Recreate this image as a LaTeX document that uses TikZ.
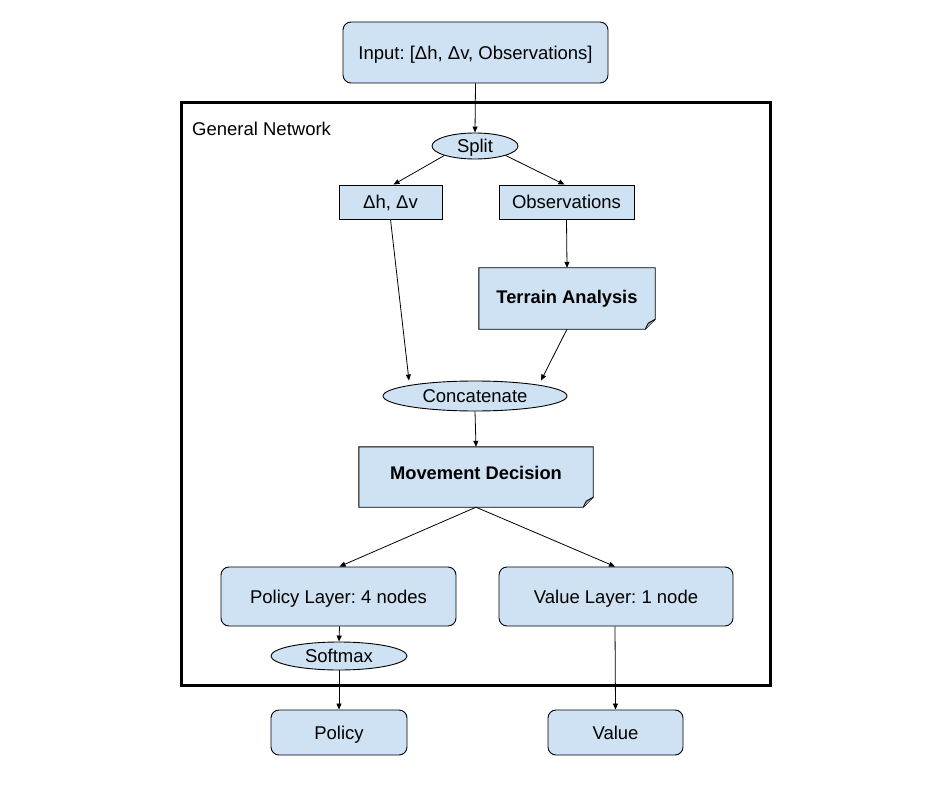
\documentclass[tikz,border=0pt]{standalone}
\usepackage{fontspec}
\setmainfont{Liberation Sans}
\frenchspacing
\usetikzlibrary{arrows.meta,shapes.geometric}
\definecolor{boxblue}{HTML}{CFE2F3}
\definecolor{foldblue}{HTML}{A7B5C2}
\tikzset{
  txt/.style={font=\fontsize{18.5}{22}\selectfont, text height=13.2pt, text depth=0pt},
  btxt/.style={font=\bfseries\fontsize{18.3}{22}\selectfont, text height=13.1pt, text depth=0pt, inner sep=0pt},
  base/.style={draw=black, line width=0.9pt, fill=boxblue, txt, inner sep=0pt},
  rbox/.style={base, rounded corners=8pt},
  sbox/.style={base},
  ell/.style={base, ellipse},
  conn/.style={line width=0.8pt, -{Triangle[length=6pt,width=5pt]}},
  notebox/.style={minimum width=#1, inner sep=0pt},
}
\begin{document}
\begin{tikzpicture}[x=1pt,y=-1pt]
\useasboundingbox (0,0) rectangle (944,791);
% frame
\draw[line width=3pt] (181,103) rectangle (770,685);
\node[anchor=west, txt, inner sep=0pt] (gn) at (192,129) {General Network};

\node[rbox, minimum width=265pt, minimum height=61pt] (inp) at (475.5,52.5) {Input: [Δh, Δv, Observations]};
\node[ell, minimum width=86pt, minimum height=26pt] (split) at (475,146) {Split};
\node[sbox, minimum width=103pt, minimum height=34pt] (dhv) at (390.5,202) {Δh, Δv};
\node[sbox, minimum width=135pt, minimum height=34pt] (obs) at (566.5,202) {Observations};

% Terrain analysis (note with folded corner)
\node[notebox=176pt, minimum height=61pt] (ter) at (567,298.5) {};
\draw[line width=0.9pt, fill=boxblue] (ter.north west) -- (ter.north east) -- ([yshift=10pt]ter.south east) -- ([xshift=-10pt]ter.south east) -- (ter.south west) -- cycle;
\fill[foldblue] ([yshift=10pt]ter.south east) -- ([xshift=-10pt]ter.south east) -- ([xshift=-7pt,yshift=6pt]ter.south east) -- cycle;
\draw[line width=0.9pt] ([yshift=10pt]ter.south east) -- ([xshift=-7pt,yshift=6pt]ter.south east) -- ([xshift=-10pt]ter.south east);
\node[btxt] (tert) at ([yshift=2pt]ter.center) {Terrain Analysis};

\node[ell, minimum width=184pt, minimum height=30pt] (cat) at (475,396) {Concatenate};

% Movement decision
\node[notebox=234pt, minimum height=60pt] (mov) at (476,477) {};
\draw[line width=0.9pt, fill=boxblue] (mov.north west) -- (mov.north east) -- ([yshift=10pt]mov.south east) -- ([xshift=-10pt]mov.south east) -- (mov.south west) -- cycle;
\fill[foldblue] ([yshift=10pt]mov.south east) -- ([xshift=-10pt]mov.south east) -- ([xshift=-7pt,yshift=6pt]mov.south east) -- cycle;
\draw[line width=0.9pt] ([yshift=10pt]mov.south east) -- ([xshift=-7pt,yshift=6pt]mov.south east) -- ([xshift=-10pt]mov.south east);
\node[btxt] (movt) at ([yshift=4pt]mov.center) {Movement Decision};

\node[rbox, minimum width=235pt, minimum height=59pt] (pol) at (338.5,596.5) {Policy Layer: 4 nodes};
\node[rbox, minimum width=234pt, minimum height=59pt] (val) at (616,596.5) {Value Layer: 1 node};
\node[ell, minimum width=136pt, minimum height=28pt] (soft) at (339,656) {Softmax};
\node[rbox, minimum width=136pt, minimum height=45pt] (po) at (339,732.5) {Policy};
\node[rbox, minimum width=135pt, minimum height=45pt] (va) at (615.5,732.5) {Value};

% connectors
\draw[conn] (inp.south) -- (split.north);
\draw[conn] (split.south west) -- ([xshift=3pt]dhv.north);
\draw[conn] (split.south east) -- ([xshift=-2pt]obs.north);
\draw[conn] (dhv.south) -- ([xshift=-66pt]cat.north);
\draw[conn] (obs.south) -- (ter.north);
\draw[conn] (ter.south) -- ([xshift=66pt]cat.north);
\draw[conn] (cat.south) -- (mov.north);
\draw[conn] (mov.south) -- ([xshift=1pt]pol.north);
\draw[conn] (mov.south) -- ([xshift=-1pt]val.north);
\draw[conn] ([xshift=1pt]pol.south) -- (soft.north);
\draw[conn] (soft.south) -- (po.north);
\draw[conn] ([xshift=-1pt]val.south) -- (va.north);
\end{tikzpicture}
\end{document}
